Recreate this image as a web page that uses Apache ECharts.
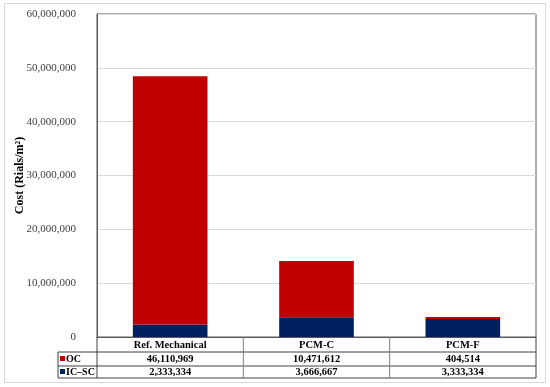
<!DOCTYPE html>
<html><head><meta charset="utf-8">
<script src="https://cdn.jsdelivr.net/npm/echarts@6/dist/echarts.min.js"></script>
<style>html,body{margin:0;padding:0;background:#fff}#c{width:550px;height:387px}</style>
</head><body><div id="c"></div>
<script>
const categories = ['Ref. Mechanical', 'PCM-C', 'PCM-F'];
const ocValues = [46110969, 10471612, 404514];
const icscValues = [2333334, 3666667, 3333334];
const seriesNames = ['OC', 'IC\u2013SC'];
const yTicks = {min: 0, max: 60000000, interval: 10000000};

const FONT = '"Liberation Serif","Times New Roman",serif';
const RED = '#C00000', NAVY = '#002060';
const fmt = v => Number(v).toLocaleString('en-US');

const G = {left: 97, right: 14, top: 14, bottom: 50};
const W = 550, H = 387;
const chart = echarts.init(document.getElementById('c'), null, {renderer: 'canvas'});

const option = {
  animation: false,
  backgroundColor: '#fff',
  grid: {left: G.left, right: G.right, top: G.top, bottom: G.bottom, show: true, borderColor: '#595959', borderWidth: 1, containLabel: false},
  xAxis: {
    type: 'category', data: categories,
    axisLine: {show: true, lineStyle: {color: '#595959', width: 1}},
    axisTick: {show: false}, axisLabel: {show: false}
  },
  yAxis: {
    type: 'value', min: yTicks.min, max: yTicks.max, interval: yTicks.interval,
    name: 'Cost (Rials/m\u00B2)', nameLocation: 'middle', nameGap: 71, nameRotate: 90, nameMoveOverlap: false,
    nameTextStyle: {fontFamily: FONT, fontWeight: 'bold', fontSize: 12, color: '#000'},
    axisLine: {show: true, lineStyle: {color: '#595959'}},
    axisTick: {show: false},
    axisLabel: {formatter: fmt, fontFamily: FONT, fontSize: 11, color: '#404040', margin: 21},
    splitLine: {lineStyle: {color: '#d9d9d9', width: 1}}
  },
  series: [
    {name: seriesNames[1], type: 'bar', stack: 'c', data: icscValues, barWidth: '51%', itemStyle: {color: NAVY}},
    {name: seriesNames[0], type: 'bar', stack: 'c', data: ocValues, barWidth: '51%', itemStyle: {color: RED}}
  ]
};
chart.setOption(option);

// data table
const x0 = G.left, x1 = W - G.right, yAxisY = H - G.bottom;
const rowLines = [yAxisY, yAxisY + 15, yAxisY + 29, yAxisY + 41];
const legX = 58;
const g = [];
const line = (xa, ya, xb, yb, c) => g.push({type: 'line', shape: {x1: xa, y1: ya, x2: xb, y2: yb}, style: {stroke: c || '#404040', lineWidth: 1}, z: 100});
// outer border
g.push({type: 'rect', shape: {x: 4.5, y: 3.5, width: 541, height: 379}, style: {fill: null, stroke: '#d9d9d9', lineWidth: 1}, z: 0});
line(legX, rowLines[1], x1, rowLines[1]);
line(legX, rowLines[2], x1, rowLines[2]);
line(legX, rowLines[3], x1, rowLines[3]);
line(legX, rowLines[1], legX, rowLines[3]);
const bounds = [];
for (let i = 0; i <= categories.length; i++) bounds.push(x0 + (x1 - x0) * i / categories.length);
bounds.forEach((bx, i) => line(bx, yAxisY, bx, rowLines[3], (i === 0 || i === bounds.length - 1) ? '#404040' : '#7f7f7f'));
const rowsData = [ocValues, icscValues];
categories.forEach((cat, i) => {
  const cx = chart.convertToPixel({xAxisIndex: 0}, cat);
  g.push({type: 'text', x: cx, y: (rowLines[0] + rowLines[1]) / 2 + 0.5, style: {text: cat, fontFamily: FONT, fontWeight: 'bold', fontSize: 10.5, fill: '#000', align: 'center', verticalAlign: 'middle'}, z: 101});
  rowsData.forEach((arr, r) => {
    g.push({type: 'text', x: cx, y: (rowLines[r + 1] + rowLines[r + 2]) / 2 + 0.5, style: {text: fmt(arr[i]), fontFamily: FONT, fontWeight: 'bold', fontSize: 10.5, fill: '#000', align: 'center', verticalAlign: 'middle'}, z: 101});
  });
});
[[seriesNames[0], RED], [seriesNames[1], NAVY]].forEach(([nm, col], r) => {
  const cy = (rowLines[r + 1] + rowLines[r + 2]) / 2;
  g.push({type: 'rect', shape: {x: 60, y: cy - 3, width: 5, height: 5}, style: {fill: col}, z: 101});
  g.push({type: 'text', x: 66, y: cy + 0.5, style: {text: nm, fontFamily: FONT, fontWeight: 'bold', fontSize: 10, fill: '#000', align: 'left', verticalAlign: 'middle'}, z: 101});
});
chart.setOption({graphic: {elements: g}});
</script></body></html>
